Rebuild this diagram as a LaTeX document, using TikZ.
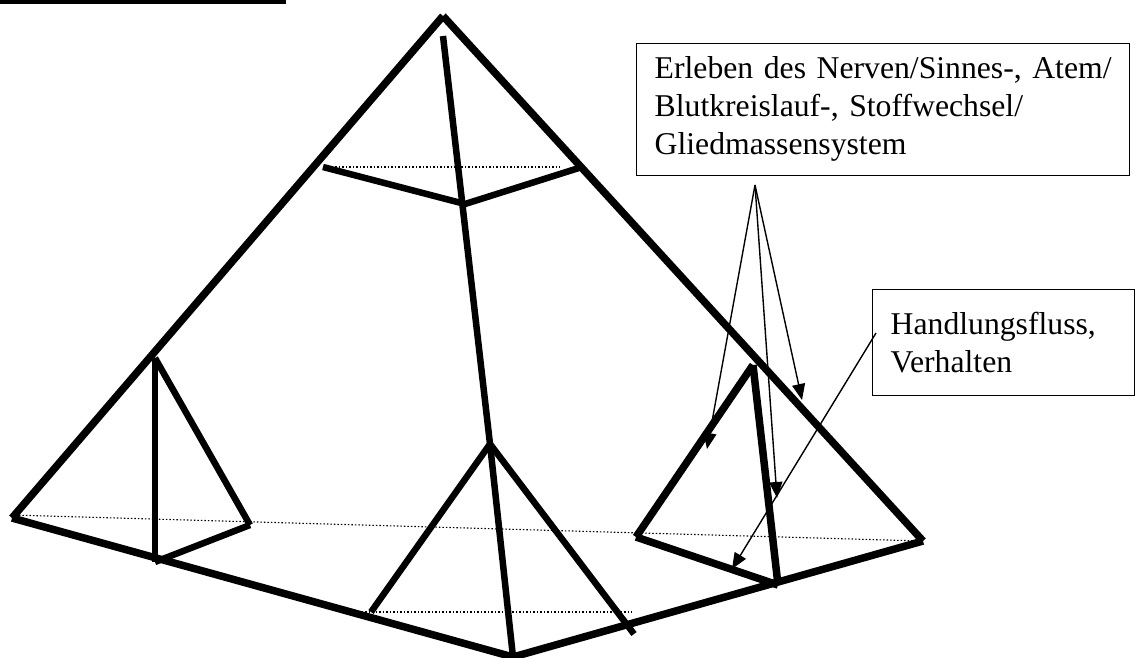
\documentclass[tikz,border=0pt]{standalone}
\usepackage{fontspec}
\setmainfont{Liberation Serif}
\usetikzlibrary{arrows.meta}
\tikzset{
 edgeline/.style={line width=7.5pt},
 midline/.style={line width=6.5pt},
 dotline/.style={line width=1.1pt,dash pattern=on 1.5pt off 2pt},
 txtbox/.style={draw,line width=1.4pt,fill=white,align=left,anchor=north west,inner xsep=18pt,inner ysep=0pt,font=\fontsize{31.7}{38}\selectfont},
 pointer/.style={line width=1.4pt,-{Triangle[length=16pt,width=13pt]}}
}
\begin{document}
\begin{tikzpicture}[x=1pt,y=-1pt]
\useasboundingbox (0,0) rectangle (1137,657);
\coordinate (apex) at (443,16);
\coordinate (bl) at (12,518);
\coordinate (bf) at (513,657);
\coordinate (br) at (923,541);
\coordinate (ridge) at (443,36);
\coordinate (mid) at (490,444);
\coordinate (tl) at (323,167);
\coordinate (tf) at (465,204);
\coordinate (tr) at (582,167);
\coordinate (la) at (155,358);
\coordinate (lf) at (155,562);
\coordinate (lr) at (250,525);
\coordinate (ml) at (371,612);
\coordinate (mr) at (634,634);
\coordinate (ra) at (753,365);
\coordinate (rl) at (636,537);
\coordinate (rf) at (778,585);
\fill (0,0) rectangle (286,4);
\draw[dotline] (12,515) -- (922,541);
\draw[dotline] (335,167) -- (560,167);
\draw[dotline] (358,612) -- (632,612);
\draw[edgeline] (bl) -- (apex);
\draw[edgeline] (apex) -- (br);
\draw[edgeline] (br) -- (bf);
\draw[edgeline] (bf) -- (bl);
\draw[midline] (ridge) -- (mid);
\draw[midline] (mid) -- (bf);
\draw[midline] (tl) -- (tf);
\draw[midline] (tf) -- (tr);
\draw[midline] (lf) -- (la);
\draw[midline] (la) -- (lr);
\draw[midline] (lr) -- (lf);
\draw[midline] (ml) -- (mid);
\draw[midline] (mid) -- (mr);
\draw[edgeline] (rl) -- (ra);
\draw[edgeline] (ra) -- (rf);
\draw[edgeline] (rl) -- (rf);
\node[txtbox,text width=457pt,minimum height=132pt] (b1) at (636,42.5) {\mbox{Erleben des Nerven/Sinnes-, Atem/}\\Blutkreislauf-, Stoffwechsel/\\Gliedmassensystem};
\node[txtbox,text width=226pt,minimum height=106pt] (b2) at (872,289) {Handlungsfluss,\\Verhalten};
\coordinate (src) at (755,185);
\coordinate (h) at (876,333);
\coordinate (a1) at (707,449);
\coordinate (a2) at (777,498);
\coordinate (a3) at (802,400);
\coordinate (a4) at (732,569);
\draw[pointer] (src) -- (a1);
\draw[pointer] (src) -- (a2);
\draw[pointer] (src) -- (a3);
\draw[pointer] (h) -- (a4);
\end{tikzpicture}
\end{document}
